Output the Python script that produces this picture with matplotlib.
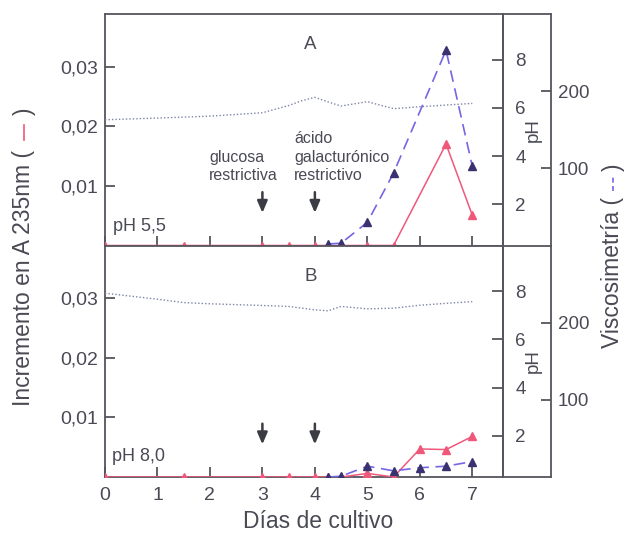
import matplotlib
matplotlib.use('Agg')
import matplotlib.pyplot as plt
from matplotlib.lines import Line2D

plt.rcParams['font.family'] = ['Liberation Sans', 'DejaVu Sans']

# ---------------- data ----------------
days_red_A = [0, 1.5, 3, 3.5, 4, 4.25, 4.5, 5, 5.5, 6.5, 7]
a235_A = [0, 0, 0, 0, 0, 0, 0, 0, 0, 0.0170, 0.0051]
days_red_B = [0, 1.5, 3, 3.5, 4, 4.25, 4.5, 5, 5.5, 6, 6.5, 7]
a235_B = [0, 0, 0, 0, 0, 0, 0, 0.0006, 0, 0.0047, 0.0046, 0.0068]

days_vis_A = [4.25, 4.5, 5, 5.5, 6.5, 7]
vis_A = [2, 3, 30, 94, 253, 103]
days_vis_B = [4.25, 4.5, 5, 5.5, 6, 6.5, 7]
vis_B = [0, 1, 14, 8, 12, 14, 20]

days_ph_A = [0, 1, 2, 3, 3.5, 3.75, 4, 4.25, 4.5, 5, 5.5, 6, 6.5, 7]
ph_A = [5.51, 5.58, 5.66, 5.80, 6.10, 6.30, 6.44, 6.25, 6.08, 6.26, 5.97, 6.05, 6.12, 6.19]
days_ph_B = [0, 1, 1.5, 2, 3, 3.5, 4, 4.25, 4.5, 5, 5.5, 6, 6.5, 7]
ph_B = [7.92, 7.67, 7.53, 7.48, 7.41, 7.37, 7.23, 7.19, 7.37, 7.27, 7.30, 7.42, 7.50, 7.57]

a235_ticks = [0.01, 0.02, 0.03]
a235_ticklabels = ['0,01', '0,02', '0,03']
ph_ticks = [2, 4, 6, 8]
vis_ticks = [100, 200]
day_ticks = [0, 1, 2, 3, 4, 5, 6, 7]

# ---------------- style ----------------
W, H = 626, 535
TXT = '#4a4a55'
AXC = '#55555f'
RED = '#f0587a'
BLUE = '#7566e4'
BLUE_M = '#3a3270'
DOT = '#7e84a6'
LW_AX = 1.3
TFS = 14

fig = plt.figure(figsize=(W / 100, H / 100), dpi=100)

X0, X1, XV = 105, 502.7, 550.7
Y_TOP, Y_MID, Y_BOT = 14, 245.5, 477


def fx(px):
    return px / W


def fy(py):
    return (H - py) / H


def make_panel(ytop, ybot, days_r, a235, days_v, vis, days_ph, ph, show_xlabels):
    ax = fig.add_axes([fx(X0), fy(ybot), fx(X1) - fx(X0), fy(ytop) - fy(ybot)])
    ax.set_xlim(0, 7.58)
    ax.set_ylim(0, 0.0388)
    ax.set_yticks(a235_ticks)
    ax.set_yticklabels(a235_ticklabels)
    ax.set_xticks(day_ticks)
    if not show_xlabels:
        ax.set_xticklabels([])
    ax.tick_params(axis='both', direction='in', length=7, width=LW_AX, color=AXC,
                   labelcolor=TXT, labelsize=TFS)
    ax.tick_params(axis='y', pad=5)
    ax.tick_params(axis='x', pad=7)
    for s in ax.spines.values():
        s.set_color(AXC)
        s.set_linewidth(LW_AX)
    ax.plot(days_r, a235, color=RED, lw=1.1, marker='^', ms=5.5,
            mfc=RED, mec=RED, zorder=3)

    axp = ax.twinx()
    axp.set_ylim(0.29, 9.90)
    axp.set_yticks(ph_ticks)
    axp.tick_params(axis='y', direction='in', length=8, width=LW_AX, color=AXC,
                    labelcolor=TXT, labelsize=13.5, pad=9)
    for s in axp.spines.values():
        s.set_visible(False)
    axp.spines['right'].set_visible(True)
    axp.spines['right'].set_color(AXC)
    axp.spines['right'].set_linewidth(LW_AX)
    axp.plot(days_ph, ph, color=DOT, lw=1.0, ls=(0, (1, 1.5)))
    axp.set_ylabel('pH', color=TXT, fontsize=13.5, labelpad=-1)

    axv = ax.twinx()
    axv.set_ylim(0, 300)
    axv.set_yticks(vis_ticks)
    for s in axv.spines.values():
        s.set_visible(False)
    axv.spines['right'].set_visible(True)
    axv.spines['right'].set_position(('axes', (XV - X0) / (X1 - X0)))
    axv.spines['right'].set_color(AXC)
    axv.spines['right'].set_linewidth(LW_AX)
    axv.tick_params(axis='y', direction='in', length=7, width=LW_AX, color=AXC,
                    labelcolor=TXT, labelsize=13.5, pad=5)
    axv.plot(days_v, vis, color=BLUE, lw=1.2, ls=(0, (7, 4)), marker='^',
             ms=5.5, mfc=BLUE_M, mec=BLUE_M, zorder=3)
    return ax


axA = make_panel(Y_TOP, Y_MID, days_red_A, a235_A, days_vis_A, vis_A,
                 days_ph_A, ph_A, False)
axB = make_panel(Y_MID, Y_BOT, days_red_B, a235_B, days_vis_B, vis_B,
                 days_ph_B, ph_B, True)

# frame extension to the viscosity spine
for yy in (Y_TOP, Y_MID, Y_BOT):
    fig.add_artist(Line2D([fx(X1), fx(XV)], [fy(yy), fy(yy)], color=AXC,
                          lw=LW_AX, transform=fig.transFigure))

# panel letters and pH notes
axA.text(0.517, 0.868, 'A', transform=axA.transAxes, fontsize=13.5, color=TXT,
         ha='center', va='center')
axB.text(0.517, 0.868, 'B', transform=axB.transAxes, fontsize=13.5, color=TXT,
         ha='center', va='center')
fig.text(fx(113), fy(231), 'pH 5,5', fontsize=13, color=TXT, ha='left', va='baseline')
fig.text(fx(112), fy(461), 'pH 8,0', fontsize=13, color=TXT, ha='left', va='baseline')

# annotations
fig.text(fx(209), fy(161.7), 'glucosa', fontsize=11.5, color=TXT, ha='left', va='baseline')
fig.text(fx(209), fy(180.5), 'restrictiva', fontsize=11.5, color=TXT, ha='left', va='baseline')
fig.text(fx(294), fy(143), 'ácido', fontsize=11.5, color=TXT, ha='left', va='baseline')
fig.text(fx(294), fy(161.7), 'galacturónico', fontsize=11.5, color=TXT, ha='left', va='baseline')
fig.text(fx(294), fy(180.5), 'restrictivo', fontsize=11.5, color=TXT, ha='left', va='baseline')

arrow_kw = dict(arrowstyle='-|>,head_length=0.7,head_width=0.3', color='#3c3c44', lw=1.8)
for ax in (axA, axB):
    for d in (3, 4):
        ax.annotate('', xy=(d, 0.0050), xytext=(d, 0.0094), arrowprops=arrow_kw)

# axis labels
fig.text(fx(318), fy(522), 'Días de cultivo', fontsize=16.5, color=TXT,
         ha='center', va='center')

fig.canvas.draw()
rend = fig.canvas.get_renderer()


def vlabel(xc, ycenter_px, parts, fs):
    """parts: list of ('text', str, color) or ('gap', px) or ('line', px, color, ls)"""
    objs = []
    total = 0
    for p in parts:
        if p[0] == 'text':
            t = fig.text(0, 0, p[1], rotation=90, fontsize=fs, color=p[2],
                         ha='center', va='bottom')
            h = t.get_window_extent(renderer=rend).height
            objs.append(('text', t, h))
            total += h
        elif p[0] == 'gap':
            objs.append(('gap', None, p[1]))
            total += p[1]
        else:
            objs.append(('line', p, p[1]))
            total += p[1]
    y = (H - ycenter_px) - total / 2
    for kind, o, h in objs:
        if kind == 'text':
            o.set_position((xc / W, y / H))
        elif kind == 'line':
            fig.add_artist(Line2D([xc / W, xc / W], [y / H, (y + h) / H],
                                  color=o[2], lw=1.2, ls=o[3],
                                  transform=fig.transFigure))
        y += h


vlabel(24, 257, [('text', 'Incremento en A 235nm (', TXT), ('gap', 10),
                 ('line', 15, RED, '-'), ('gap', 10), ('text', ')', TXT)], 16.5)
vlabel(613, 256, [('text', 'Viscosimetría (', TXT), ('gap', 6),
                  ('line', 14, BLUE, (0, (3, 2))), ('gap', 6), ('text', ')', TXT)], 16.5)

fig.savefig('out.png', dpi=100, facecolor='white')
